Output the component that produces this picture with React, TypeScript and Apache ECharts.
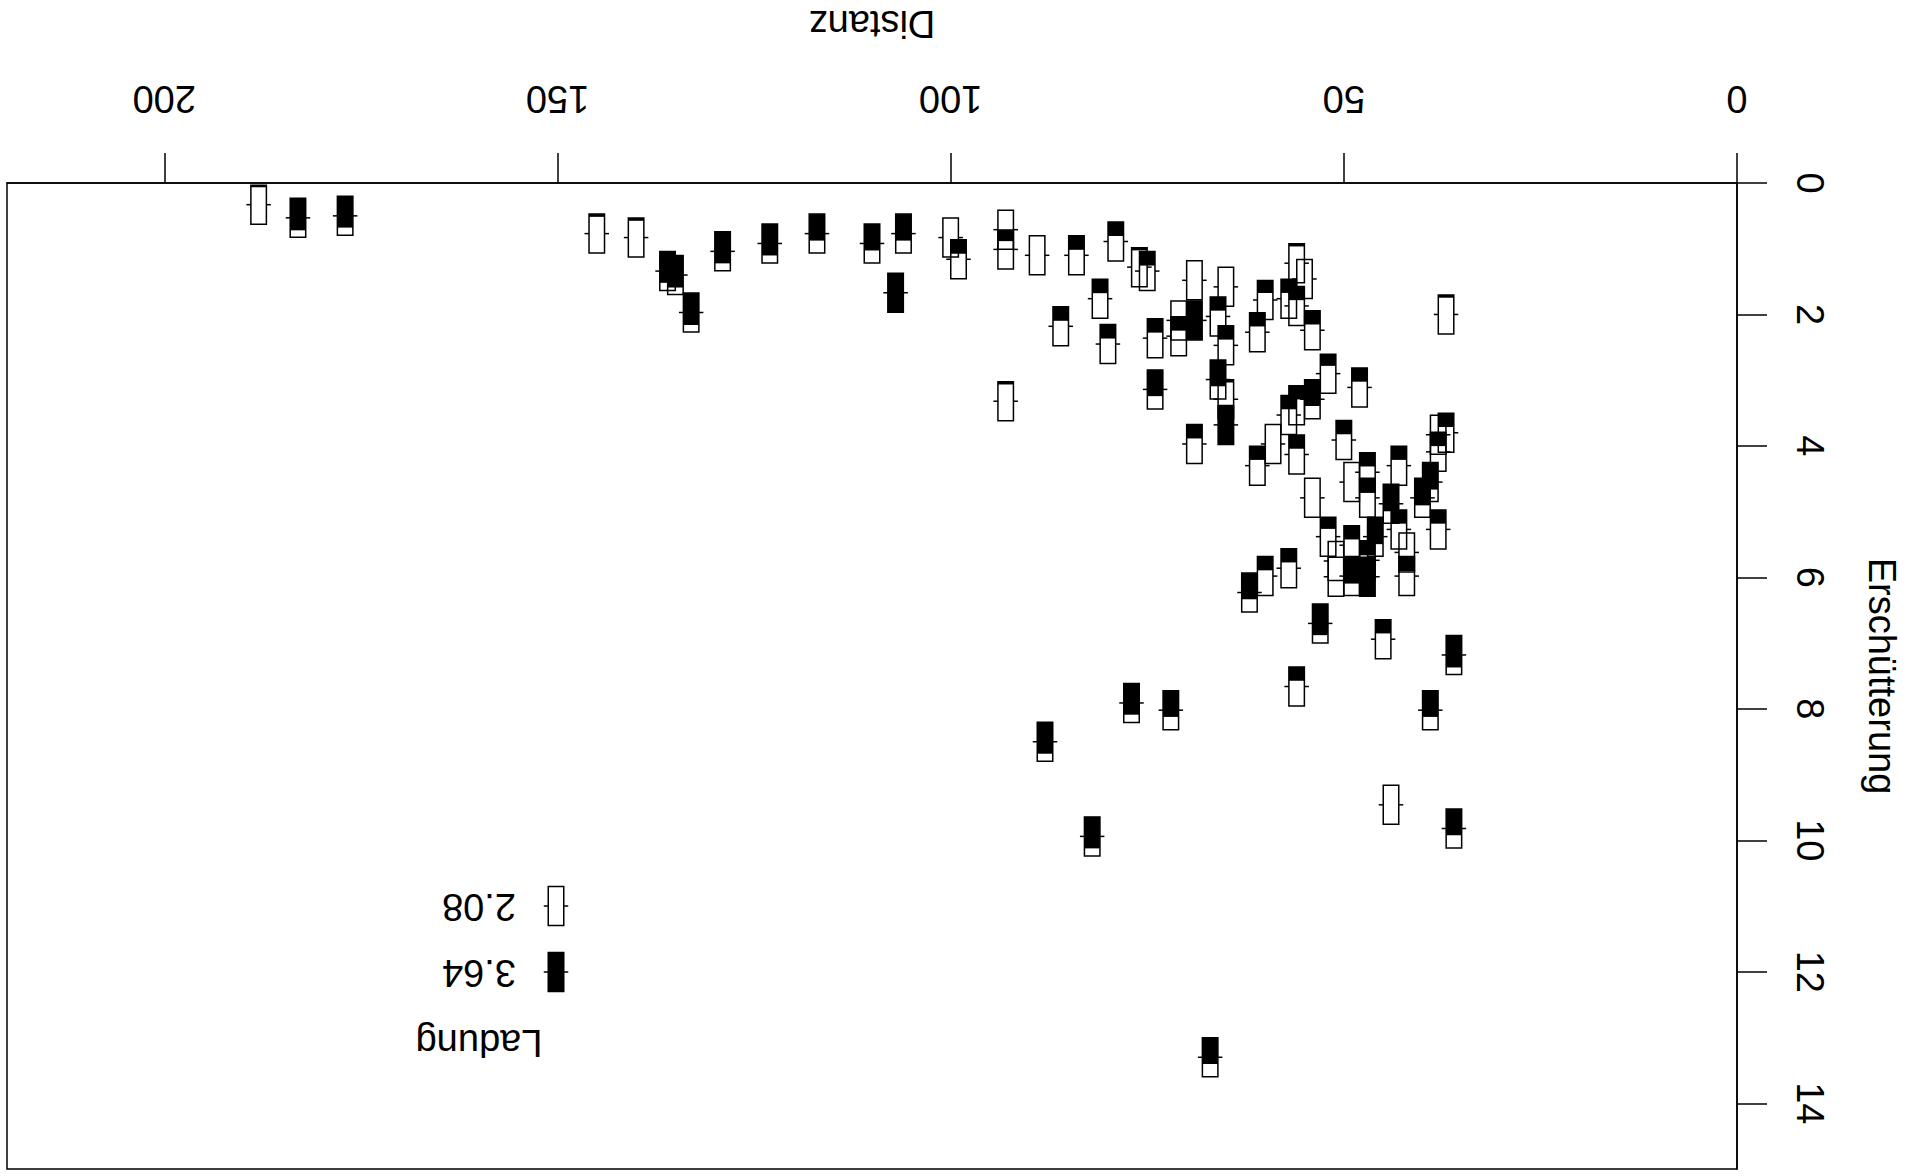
import React, { useEffect, useRef } from "react";
import * as echarts from "echarts";

// ---- data ----
const distanz = [
  188, 183, 177, 145, 140, 136, 135, 133, 129, 123,
  117, 110, 106, 107, 100, 99, 93, 93, 89, 84,
  79, 76, 75, 81, 86, 80, 93, 74, 74, 69,
  71, 71, 69, 69, 65, 66, 65, 66, 65, 65,
  60, 61, 56, 55, 57, 56, 54, 59, 61, 57,
  56, 54, 56, 54, 37, 52, 48, 50, 49, 47,
  47, 43, 44, 39, 40, 38, 37, 38, 52, 51,
  51, 57, 60, 62, 53, 56, 77, 72, 88, 82,
  44, 36, 67, 45, 36, 39, 43, 38, 42, 42,
  49, 46, 49, 47, 47,
];
const erschuetterung = [
  0.33, 0.53, 0.5, 0.77, 0.83, 1.34, 1.4, 1.97, 1.04, 0.92,
  0.77, 0.92, 0.77, 1.67, 0.83, 1.16, 0.71, 1.01, 1.1, 1.1,
  0.89, 1.28, 1.34, 1.76, 2.18, 2.45, 3.32, 2.36, 3.14, 3.97,
  2.09, 2.33, 1.48, 2.09, 1.58, 2.03, 2.47, 2.99, 3.29, 3.68,
  1.78, 2.27, 1.22, 1.46, 1.76, 1.87, 2.24, 3.97, 4.3, 3.53,
  3.38, 3.29, 4.13, 4.79, 2.0, 2.9, 3.11, 3.91, 4.55, 4.4,
  4.79, 4.3, 4.88, 4.55, 4.79, 3.83, 3.8, 4.09, 5.38, 5.75,
  5.99, 5.86, 5.98, 6.23, 6.7, 7.66, 7.91, 8.02, 8.5, 9.94,
  9.46, 9.82, 13.3, 6.94, 7.18, 8.02, 5.27, 5.27, 5.62, 5.98,
  5.51, 5.38, 5.98, 5.99, 5.74,
];
const ladung = [
  2.16, 3.36, 3.33, 2.19, 2.19, 3.33, 3.36, 3.36, 3.34, 3.34,
  3.14, 3.14, 3.14, 3.64, 2.08, 2.64, 2.08, 2.53, 2.08, 2.64,
  2.64, 2.19, 2.64, 2.64, 2.64, 2.64, 2.19, 2.64, 3.13, 2.64,
  2.08, 2.64, 2.08, 3.64, 2.08, 2.63, 2.63, 3.13, 2.19, 3.64,
  2.58, 2.63, 2.19, 2.08, 2.63, 2.63, 2.63, 2.08, 2.63, 2.63,
  2.63, 3.13, 2.63, 2.08, 2.19, 2.55, 2.63, 2.63, 2.08, 2.63,
  2.66, 2.63, 3.16, 3.16, 3.16, 2.08, 2.63, 2.63, 2.55, 2.08,
  2.08, 2.63, 2.63, 3.13, 3.33, 2.63, 3.33, 3.13, 3.34, 3.34,
  2.08, 3.13, 3.13, 2.63, 3.36, 3.13, 2.63, 2.63, 2.08, 2.66,
  2.63, 3.16, 3.16, 3.64, 2.66,
];
const legendValues = [2.08, 3.64];
const legendTitle = "Ladung";
const xTitle = "Distanz";
const yTitle = "Erschütterung";
const xTicks = [0, 50, 100, 150, 200];
const yTicks = [0, 2, 4, 6, 8, 10, 12, 14];
const xLimits = [0, 220];
const yLimits = [0, 15];

// ---- styling ----
const FONT = "'Liberation Sans', Arial, Helvetica, sans-serif";
const FS = 38;
const BOX_W = 15.5;
const BOX_H = 39;
const TICK = 4.5;
const LW = 1.5;

function thermoShapes(cx: number, cy: number, p: number): any[] {
  const x0 = cx - BOX_W / 2;
  const y0 = cy - BOX_H / 2;
  const out: any[] = [];
  if (p > 0) {
    out.push({
      type: "rect",
      shape: { x: x0, y: y0, width: BOX_W, height: BOX_H * p },
      style: { fill: "#000" },
    });
  }
  out.push({
    type: "rect",
    shape: { x: x0, y: y0, width: BOX_W, height: BOX_H },
    style: { fill: "none", stroke: "#000", lineWidth: LW },
  });
  out.push({
    type: "line",
    shape: { x1: x0 - TICK, y1: cy, x2: x0, y2: cy },
    style: { stroke: "#000", lineWidth: LW },
  });
  out.push({
    type: "line",
    shape: { x1: x0 + BOX_W, y1: cy, x2: x0 + BOX_W + TICK, y2: cy },
    style: { stroke: "#000", lineWidth: LW },
  });
  return out;
}

const lmin = legendValues[0];
const lmax = legendValues[legendValues.length - 1];
const frac = (v: number) => Math.max(0, Math.min(1, (v - lmin) / (lmax - lmin)));

export default function App() {
  const ref = useRef<HTMLDivElement>(null);
  useEffect(() => {
    if (!ref.current) return;
    const chart = echarts.init(ref.current, null, { renderer: "svg" });

    const data = distanz.map((d, i) => [d, erschuetterung[i], ladung[i]]);

    const legendX = 556;
    const legendY = [906, 972];
    const legendTextX = 479;
    const legendGraphics: any[] = [];
    legendValues.forEach((v, i) => {
      legendGraphics.push({
        type: "group",
        children: thermoShapes(legendX, legendY[i], frac(v)),
      });
      legendGraphics.push({
        type: "text",
        x: legendTextX,
        y: legendY[i] + 1,
        rotation: Math.PI,
        style: {
          text: v.toFixed(2),
          font: `${FS}px ${FONT}`,
          fill: "#000",
          align: "center",
          verticalAlign: "middle",
        },
      });
    });
    legendGraphics.push({
      type: "text",
      x: legendTextX,
      y: 1043,
      rotation: Math.PI,
      style: {
        text: legendTitle,
        font: `${FS}px ${FONT}`,
        fill: "#000",
        align: "center",
        verticalAlign: "middle",
      },
    });

    const axisText = { fontSize: FS, fontFamily: FONT, color: "#000" };

    chart.setOption({
      animation: false,
      backgroundColor: "#fff",
      grid: {
        left: 7,
        right: 173,
        top: 183,
        bottom: 7,
        show: true,
        borderColor: "#000",
        borderWidth: LW,
        backgroundColor: "transparent",
        containLabel: false,
        outerBoundsMode: "none",
      },
      xAxis: {
        type: "value",
        position: "top",
        inverse: true,
        min: xLimits[0],
        max: xLimits[1],
        name: xTitle,
        nameLocation: "middle",
        nameGap: 159,
        nameRotate: 180,
        nameMoveOverlap: false,
        nameTextStyle: { ...axisText, align: "center", verticalAlign: "middle" },
        axisLine: { show: true, onZero: false, lineStyle: { color: "#000", width: LW } },
        axisTick: { show: true, length: 30, customValues: xTicks, lineStyle: { color: "#000", width: LW } },
        axisLabel: {
          ...axisText,
          customValues: xTicks,
          rotate: 180,
          margin: 84,
          align: "center",
          verticalAlign: "middle",
          hideOverlap: false,
        },
        splitLine: { show: false },
      },
      yAxis: {
        type: "value",
        position: "right",
        inverse: true,
        min: yLimits[0],
        max: yLimits[1],
        name: yTitle,
        nameLocation: "middle",
        nameGap: 145,
        nameRotate: -90,
        nameMoveOverlap: false,
        nameTextStyle: { ...axisText, align: "center", verticalAlign: "middle" },
        axisLine: { show: true, onZero: false, lineStyle: { color: "#000", width: LW } },
        axisTick: { show: true, length: 30, customValues: yTicks, lineStyle: { color: "#000", width: LW } },
        axisLabel: {
          ...axisText,
          customValues: yTicks,
          rotate: -90,
          margin: 73,
          align: "center",
          verticalAlign: "middle",
          hideOverlap: false,
        },
        splitLine: { show: false },
      },
      series: [
        {
          type: "custom",
          clip: false,
          data,
          encode: { x: 0, y: 1 },
          renderItem: (params: any, api: any) => {
            const pt = api.coord([api.value(0), api.value(1)]);
            return {
              type: "group",
              children: thermoShapes(pt[0], pt[1], frac(api.value(2))),
            };
          },
        },
      ],
      graphic: legendGraphics,
    });

    return () => chart.dispose();
  }, []);

  return (
    <div
      ref={ref}
      style={{ position: "absolute", left: 0, top: 0, width: 1910, height: 1176 }}
    />
  );
}
